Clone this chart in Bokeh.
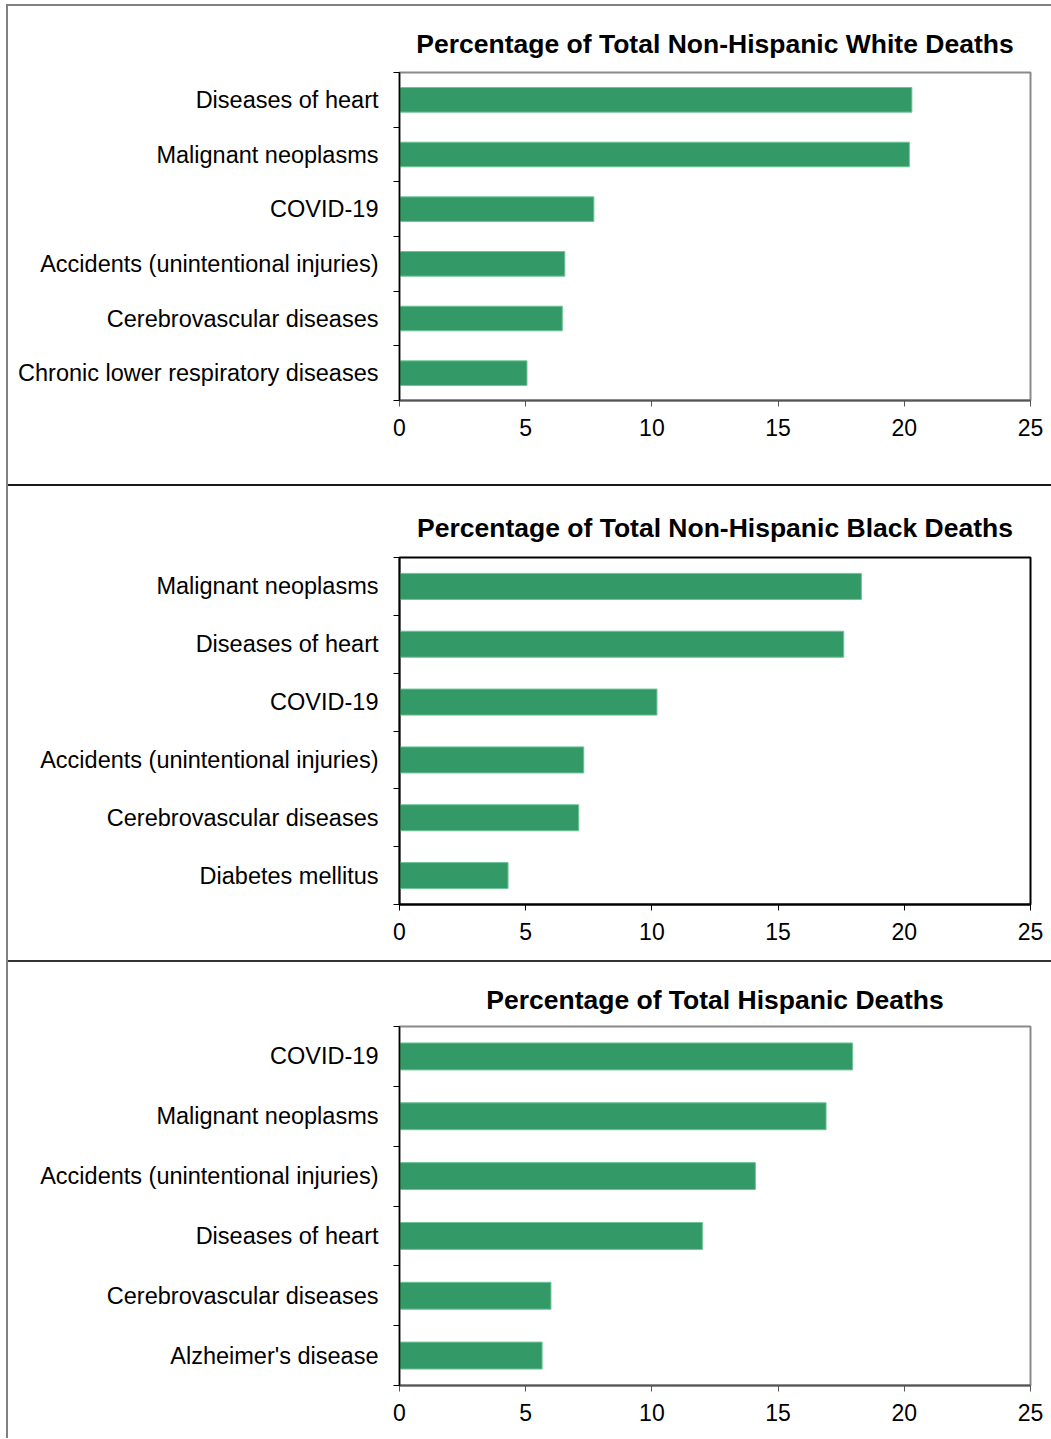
from bokeh.plotting import figure
from bokeh.layouts import column, row
from bokeh.models import Div, Range1d, FixedTicker, ColumnDataSource
from bokeh.embed import file_html
from bokeh.resources import INLINE

# ---- data ----
white_causes = ["Diseases of heart", "Malignant neoplasms", "COVID-19",
                "Accidents (unintentional injuries)", "Cerebrovascular diseases",
                "Chronic lower respiratory diseases"]
white_values = [20.3, 20.2, 7.7, 6.55, 6.45, 5.05]

black_causes = ["Malignant neoplasms", "Diseases of heart", "COVID-19",
                "Accidents (unintentional injuries)", "Cerebrovascular diseases",
                "Diabetes mellitus"]
black_values = [18.3, 17.6, 10.2, 7.3, 7.1, 4.3]

hisp_causes = ["COVID-19", "Malignant neoplasms", "Accidents (unintentional injuries)",
               "Diseases of heart", "Cerebrovascular diseases", "Alzheimer's disease"]
hisp_values = [17.95, 16.9, 14.1, 12.0, 6.0, 5.65]

titles = ["Percentage of Total Non-Hispanic White Deaths",
          "Percentage of Total Non-Hispanic Black Deaths",
          "Percentage of Total Hispanic Deaths"]
x_ticks = [0, 5, 10, 15, 20, 25]

FONT = "Liberation Sans"
BAR = "#339966"


def make_panel(title, causes, values, height, mb, frame_color, bottom_color, title_gap):
    n = len(causes)
    pos = list(range(1, n + 1))
    p = figure(width=1043, height=height, output_backend="svg", toolbar_location=None,
               x_range=Range1d(0, 25), y_range=Range1d(n + 0.5, 0.5),
               min_border_left=mb[0], min_border_right=mb[1],
               min_border_top=mb[2], min_border_bottom=mb[3], margin=0)
    src = ColumnDataSource(dict(y=pos, v=values))
    p.hbar(y="y", right="v", left=0, height=0.45, source=src,
           fill_color=BAR, line_color="#6cc596", line_width=1)
    p.xgrid.visible = False
    p.ygrid.visible = False
    p.outline_line_color = frame_color
    p.outline_line_width = 2
    p.background_fill_color = "white"
    p.border_fill_color = "white"

    yax = p.yaxis[0]
    yax.ticker = FixedTicker(ticks=pos, minor_ticks=[k + 0.5 for k in range(0, n + 1)])
    yax.major_label_overrides = {k: c for k, c in zip(pos, causes)}
    yax.major_tick_out = 0
    yax.major_tick_in = 0
    yax.minor_tick_out = 6
    yax.minor_tick_in = 0
    yax.minor_tick_line_color = "black"
    yax.axis_line_color = "black"
    yax.axis_line_width = 1.5
    yax.major_label_standoff = 15
    yax.major_label_text_font = FONT
    yax.major_label_text_font_size = "23.5px"
    yax.major_label_text_color = "black"

    xax = p.xaxis[0]
    xax.ticker = FixedTicker(ticks=x_ticks, minor_ticks=[])
    xax.major_tick_out = 6
    xax.major_tick_in = 0
    xax.minor_tick_out = 0
    xax.major_tick_line_color = bottom_color
    xax.axis_line_color = bottom_color
    xax.axis_line_width = 2
    xax.major_label_standoff = 12
    xax.major_label_text_font = FONT
    xax.major_label_text_font_size = "23px"
    xax.major_label_text_color = "black"

    p.title.text = title
    p.title.align = "center"
    p.title.text_font = FONT
    p.title.text_font_size = "26.5px"
    p.title.text_font_style = "bold"
    p.title.text_color = "black"
    p.title.standoff = title_gap
    return p


p1 = make_panel(titles[0], white_causes, white_values, 478, (391, 18, 66, 84), "#8a8a8a", "#555555", 27)
p2 = make_panel(titles[1], black_causes, black_values, 474, (391, 21, 71, 56), "black", "black", 29)
p3 = make_panel(titles[2], hisp_causes, hisp_values, 476, (388, 19, 64, 53), "#8a8a8a", "#555555", 23)

top_line = Div(text="", width=1043, height=2, margin=0, styles={"background-color": "#808080"})
div1 = Div(text="", width=1043, height=2, margin=0, styles={"background-color": "#1a1a1a"})
div2 = Div(text="", width=1043, height=2, margin=0, styles={"background-color": "#333333"})
left_line = Div(text="", width=2, height=1434, margin=0, styles={"background-color": "#808080"})

layout = row(left_line, column(top_line, p1, div1, p2, div2, p3, spacing=0, margin=0),
             spacing=0, margin=(4, 0, 0, 6))

open("out.html", "w").write(file_html(layout, INLINE))
